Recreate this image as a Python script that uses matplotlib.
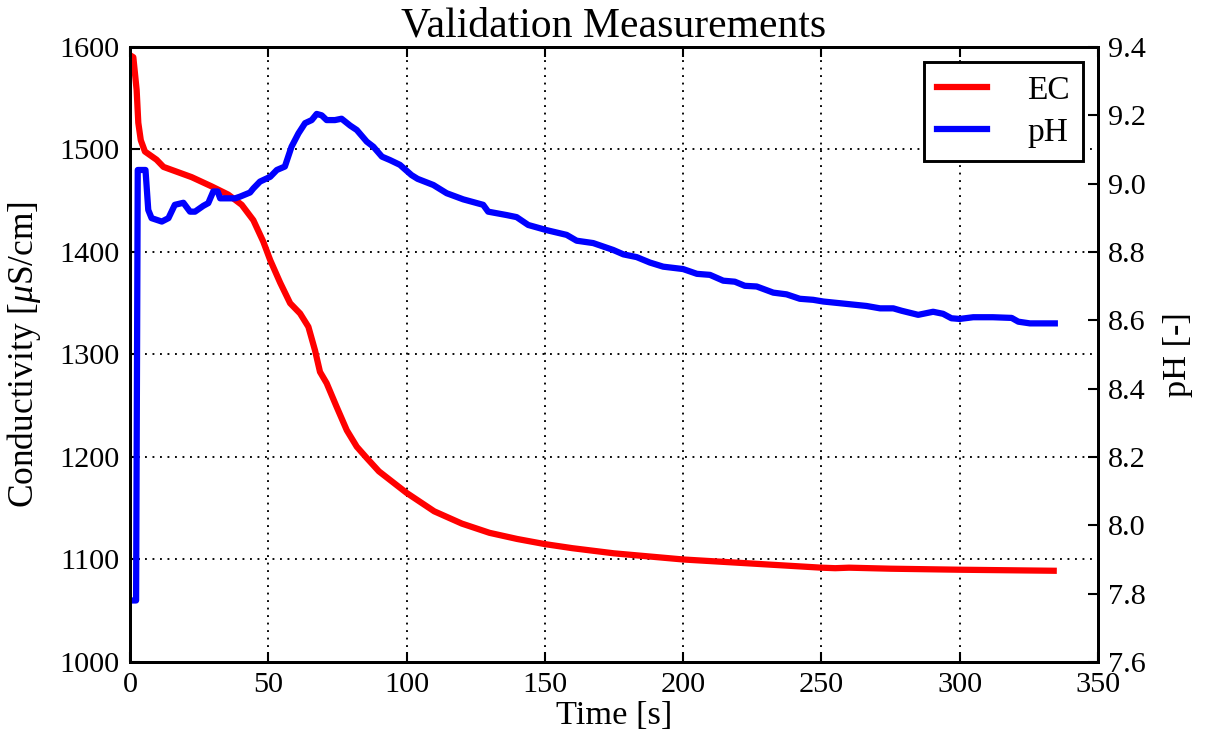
import numpy as np
import matplotlib
matplotlib.use('Agg')
import matplotlib.pyplot as plt

plt.rcParams['font.family'] = ['Liberation Serif', 'DejaVu Serif']
plt.rcParams['mathtext.fontset'] = 'custom'
plt.rcParams['mathtext.rm'] = 'Liberation Serif'
plt.rcParams['mathtext.it'] = 'Liberation Serif:italic'

# EC-Daten (Leitfähigkeit)
t_ec = [0, 1.2, 2.4, 3.0, 3.9, 5.4, 9.6, 12.1, 22.3, 29.5, 35.5, 40.4, 44.6, 48.2,
        50.7, 54.3, 57.9, 61.5, 64.5, 66.9, 68.7, 71.1, 74.7, 78.4, 82, 85.6, 90,
        100, 110, 120, 130, 140, 150, 160, 175, 200, 225, 250, 255, 260, 275, 300, 334]
ec = [1592, 1590, 1558, 1526, 1509, 1498, 1490, 1483, 1473, 1464, 1456, 1446, 1431, 1410,
      1392, 1370, 1350, 1340, 1327, 1304, 1283, 1272, 1249, 1226, 1210, 1199, 1186,
      1165, 1147, 1135, 1126, 1120, 1115, 1111, 1106, 1100, 1096, 1092, 1091.5, 1092, 1091, 1090, 1089]

# pH-Daten
t_ph = [0.5, 2.2, 2.8, 5.6, 6.6, 7.8, 11.5, 13.9, 16.2, 19.3, 21.7, 23.5, 26.5, 28.3,
        30.1, 31.7, 32.6, 38, 39.8, 43.4, 44.6, 47, 50.7, 53.1, 56, 57.2, 58.4, 60.9,
        63.3, 65.7, 67.5, 69.3, 71.1, 74.1, 76.5, 79.6, 82, 85.6, 88, 91.1, 94, 97.6,
        101.8, 104, 109.7, 114.5, 120.5, 127.7, 129.5, 136.2, 139.8, 144, 150.6, 157.9,
        161.5, 167.5, 174.7, 178.4, 183.2, 188, 192.8, 200, 205, 209.7, 214.5, 218.7,
        222.3, 226.6, 232.6, 237.4, 242.2, 247, 250.7, 256.7, 266.3, 271.2, 276, 279,
        285, 290.4, 294, 297, 300, 304.9, 312, 318.8, 321.2, 325.4, 334.4]
ph = [7.78, 7.78, 9.04, 9.04, 8.923, 8.899, 8.889, 8.899, 8.938, 8.944, 8.918, 8.918, 8.935, 8.943,
      8.977, 8.977, 8.957, 8.957, 8.962, 8.974, 8.986, 9.006, 9.02, 9.04, 9.05, 9.079, 9.108, 9.147,
      9.177, 9.186, 9.204, 9.2, 9.186, 9.186, 9.19, 9.17, 9.157, 9.123, 9.108, 9.079, 9.069, 9.055,
      9.025, 9.014, 8.996, 8.972, 8.954, 8.938, 8.918, 8.908, 8.902, 8.879, 8.864, 8.85,
      8.833, 8.826, 8.806, 8.793, 8.785, 8.769, 8.757, 8.75, 8.736, 8.733, 8.716, 8.713,
      8.701, 8.699, 8.681, 8.676, 8.663, 8.66, 8.655, 8.65, 8.642, 8.635, 8.635, 8.628,
      8.616, 8.625, 8.619, 8.606, 8.604, 8.609, 8.609, 8.607, 8.596, 8.591, 8.591]

fig = plt.figure(figsize=(8.04, 4.9867), dpi=150)
ax = fig.add_axes([0.1078, 0.115, 0.8026, 0.8222])
ax2 = ax.twinx()

l1, = ax.plot(t_ec, ec, color='red', lw=3, label='EC')
l2, = ax2.plot(t_ph, ph, color='blue', lw=3, label='pH')

ax.set_xlim(0, 350)
ax.set_ylim(1000, 1600)
ax2.set_ylim(7.6, 9.4)
ax.set_xticks(np.arange(0, 351, 50))
ax.set_yticks(np.arange(1000, 1601, 100))
ax2.set_yticks(np.arange(7.6, 9.41, 0.2))
ax2.set_yticklabels(['%.1f' % v for v in np.arange(7.6, 9.41, 0.2)])

ax.grid(True, color='black', linestyle=(0, (1, 3)), linewidth=0.9)
ax.tick_params(direction='in', length=5, width=1, top=True, labelsize=14.5, pad=5)
ax2.tick_params(direction='in', length=5, width=1, labelsize=14.5, pad=5)
for a in (ax, ax2):
    for s in a.spines.values():
        s.set_linewidth(1.4)

ax.set_xlabel('Time [s]', fontsize=16.5, labelpad=1)
ax.set_ylabel(r'Conductivity [$\mu$S/cm]', fontsize=17, labelpad=8)
ax2.set_ylabel('pH [-]', fontsize=16.5, labelpad=8)
ax.set_title('Validation Measurements', fontsize=20, pad=5)

leg = ax2.legend([l1, l2], ['EC', 'pH'], loc='upper right', fontsize=16,
                 fancybox=False, framealpha=1, edgecolor='black',
                 handlelength=1.5, handletextpad=1.2, borderpad=0.4, labelspacing=0.35,
                 borderaxespad=0.45)
leg.get_frame().set_linewidth(1.4)

fig.savefig('out.png', dpi=150)
